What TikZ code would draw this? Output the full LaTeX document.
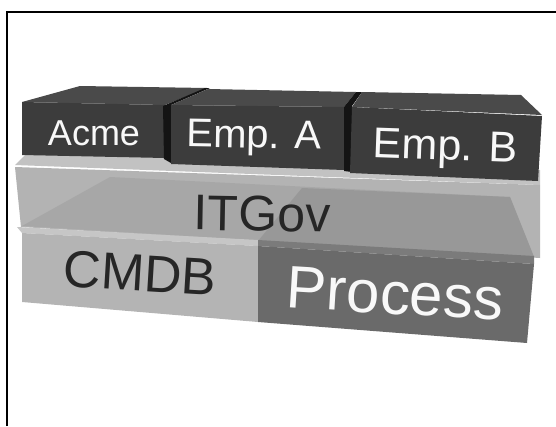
\documentclass[tikz,border=0pt]{standalone}
\usepackage{fontspec}
\setmainfont{Liberation Sans}
\usepackage{tikz}
\usetikzlibrary{calc}

\definecolor{darkfront}{HTML}{3C3C3C}
\definecolor{darktop}{HTML}{4A4A4A}
\definecolor{darkgap}{HTML}{141414}
\definecolor{govfront}{HTML}{B3B3B3}
\definecolor{govtop}{HTML}{C2C2C2}
\definecolor{govinner}{HTML}{A7A7A7}
\definecolor{govproc}{HTML}{989898}
\definecolor{cmdbfront}{HTML}{B4B4B4}
\definecolor{cmdbtop}{HTML}{C6C6C6}
\definecolor{procfront}{HTML}{6A6A6A}
\definecolor{proctop}{HTML}{7B7B7B}
\definecolor{textdark}{HTML}{262626}
\definecolor{textlight}{HTML}{F8F8F8}

\begin{document}
\begin{tikzpicture}[x=1pt,y=-1pt,
  lbl/.style={inner sep=0pt,anchor=base},
  darklbl/.style={lbl,text=textdark},
  lightlbl/.style={lbl,text=textlight}]

\useasboundingbox (0,0) rectangle (556,426);

%Drawing frame
\draw[line width=2pt] (7,426)--(7,12)--(556,12);

%ITGov slab
\fill[govtop] (15,165)--(30,150)--(540,170)--(540,185)--cycle;
\fill[govfront] (15,167)--(540,185)--(540,258)--(21,227)--cycle;
\fill[govinner] (22,226)--(110,177)--(510,197)--(534,257)--cycle;
\fill[govproc] (258,241)--(302,188)--(510,197)--(534,257)--cycle;

%Lower slab, CMDB and Process
\fill[cmdbtop] (17,227)--(258,240)--(258,246)--(22,233)--cycle;
\fill[proctop] (258,240)--(534,256)--(534,264)--(258,246)--cycle;
\fill[cmdbfront] (22,233)--(258,246)--(258,322)--(22,302)--cycle;
\fill[procfront] (258,246)--(534,264)--(527,343)--(258,322)--cycle;

%Acme block
\fill[darktop] (22,102)--(80,86)--(207,88)--(165,105)--cycle;
\fill[darkfront] (22,102)--(165,105)--(165,158)--(22,155)--cycle;
\fill[darkgap] (163,106)--(205,88)--(210,88)--(171,105)--(171,163)--(164,159)--cycle;

%Emp. A block
\fill[darktop] (171,105)--(208,89)--(356,92)--(344,107)--cycle;
\fill[darkfront] (171,105)--(344,107)--(344,170)--(171,164)--cycle;
\fill[darkgap] (344,107)--(356,92)--(362,92)--(352,106)--(352,172)--(344,171)--cycle;

%Emp. B block
\fill[darktop] (352,107)--(362,92)--(521,95)--(542,115)--cycle;
\fill[darkfront] (352,107)--(542,116)--(538,181)--(350,173)--cycle;

%Labels
\node[lightlbl,font=\fontsize{36pt}{40pt}\selectfont] (acme) at (94,145) {Acme};
\node[lightlbl,rotate=-1,font=\fontsize{40pt}{44pt}\selectfont] (empa) at (254,148) {Emp. A};
\node[lightlbl,rotate=-2,font=\fontsize{43pt}{47pt}\selectfont] (empb) at (445,160) {Emp. B};
\node[darklbl,rotate=-1,font=\fontsize{50pt}{54pt}\selectfont] (itgov) at (262,231) {ITGov};
\node[darklbl,rotate=-3.5,font=\fontsize{52pt}{56pt}\selectfont] (cmdb) at (139,291) {CMDB};
\node[lightlbl,rotate=-3.5,font=\fontsize{60pt}{64pt}\selectfont] (process) at (394,314) {Process};

\end{tikzpicture}
\end{document}
